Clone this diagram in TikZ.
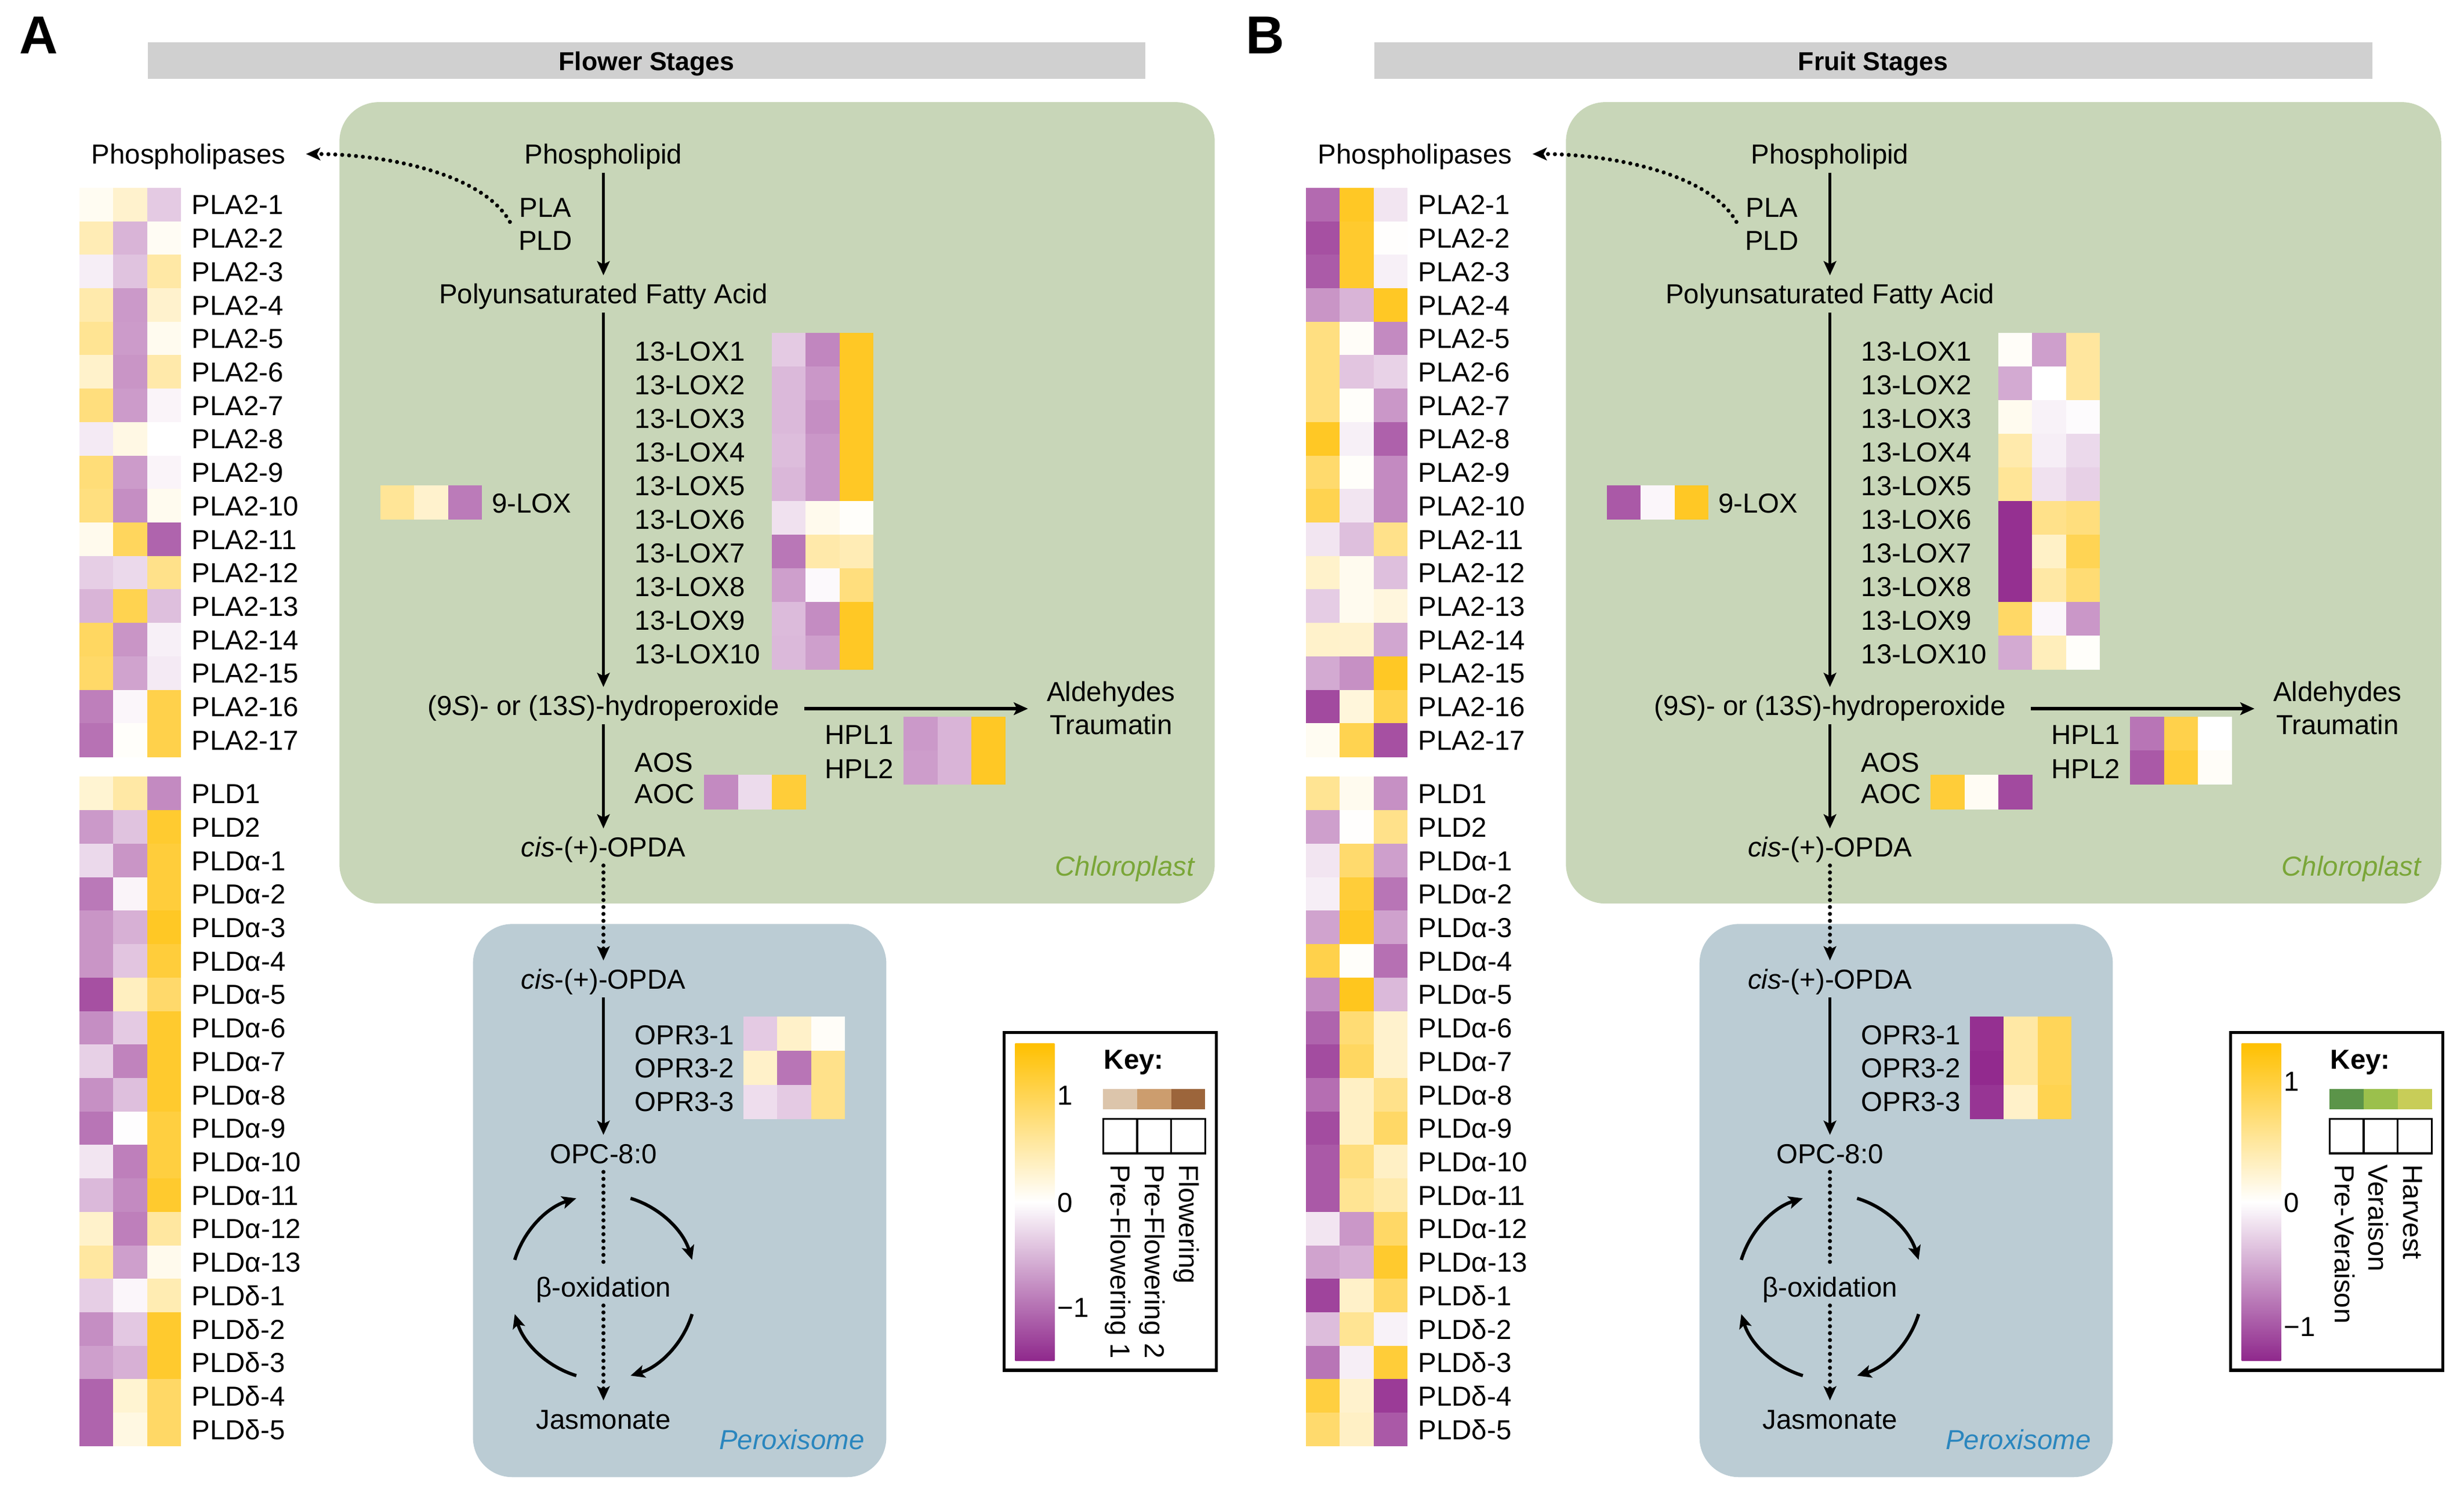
\documentclass[tikz,border=0pt]{standalone}
\usepackage{fontspec}
\setmainfont{Liberation Sans}
\usetikzlibrary{arrows.meta}
\definecolor{hmgold}{HTML}{FFC61E}
\definecolor{hmpurp}{HTML}{922A8E}
\definecolor{cbtop}{HTML}{FFC000}
\definecolor{cbbot}{HTML}{8F288C}
\definecolor{chlfill}{HTML}{C8D6B8}
\definecolor{perfill}{HTML}{BBCCD4}
\definecolor{chltext}{HTML}{7AA638}
\definecolor{pertext}{HTML}{2A86BE}
\definecolor{bannerfill}{HTML}{D0D0D0}
\definecolor{fa}{HTML}{DCC5AB}\definecolor{fb}{HTML}{CC9D6E}\definecolor{fc}{HTML}{9C653B}
\definecolor{ga}{HTML}{5B9449}\definecolor{gb}{HTML}{9BC04C}\definecolor{gc}{HTML}{C8CD58}
\newcommand\fs{\fontsize{17.5}{21.2}\selectfont}
\newcommand\hmset[1]{\ifnum#1<0 \edef\hmcol{hmpurp!\the\numexpr 0-(#1)\relax!white}\else\edef\hmcol{hmgold!\the\numexpr#1\relax!white}\fi}
\newcommand\hmap[4]{%
  \foreach \va/\vb/\vc [count=\i from 0] in {#4}{%
    \hmset{\va}\fill[fill=\hmcol] (#1,{-#2-\i*#3}) rectangle ++(21.8,{-#3-0.2});
    \hmset{\vb}\fill[fill=\hmcol] ({#1+21.6},{-#2-\i*#3}) rectangle ++(21.8,{-#3-0.2});
    \hmset{\vc}\fill[fill=\hmcol] ({#1+43.2},{-#2-\i*#3}) rectangle ++(21.6,{-#3-0.2});
  }}
\newcommand\commonpanel[2]{%
  \node[font=\bfseries\fontsize{34}{40}\selectfont, inner sep=0pt] (letter) at (24.5,-22.5) {#1};
  \fill[bannerfill] (94,-27) rectangle (729,-50);
  \node[lab, font=\bfseries\fontsize{16.5}{20}\selectfont] (title) at (411.5,-38.5) {#2};
  \fill[chlfill, rounded corners=25pt] (216,-65) rectangle (773,-575);
  \fill[perfill, rounded corners=25pt] (301,-588) rectangle (564,-940);
  \node[lab, font=\itshape\fs, text=chltext, anchor=east] (chl) at (760,-551) {Chloroplast};
  \node[lab, font=\itshape\fs, text=pertext, anchor=east] (per) at (550,-916) {Peroxisome};
  \node[lab] (phl) at (120,-98) {Phospholipases};
  \node[pw] (phlipid) at (384,-98) {Phospholipid};
  \node[pw] (pla) at (347,-132) {PLA};
  \node[pw] (pld) at (347,-153) {PLD};
  \node[pw] (pfa) at (384,-187) {Polyunsaturated Fatty Acid};
  \node[pw] (hydro) at (384,-449) {(9\textit{S})- or (13\textit{S})-hydroperoxide};
  \node[pw] (ald) at (707,-440) {Aldehydes};
  \node[pw] (tra) at (707,-461) {Traumatin};
  \node[pw] (cisa) at (384,-539) {\textit{cis}-(+)-OPDA};
  \node[pw] (cisb) at (384,-623) {\textit{cis}-(+)-OPDA};
  \node[pw] (opc) at (384,-734) {OPC-8:0};
  \node[pw] (beta) at (384,-819) {β-oxidation};
  \node[pw] (jas) at (384,-903) {Jasmonate};
  \node[lab, anchor=west] (lox9) at (313,-320) {9-LOX};
  \foreach \k in {1,...,10} \node[lab, anchor=west] (lox\k) at (404,{-223.5-(\k-1)*21.4}) {13-LOX\k};
  \node[lab, anchor=west] (hpl1) at (525,-467.5) {HPL1};
  \node[lab, anchor=west] (hpl2) at (525,-489) {HPL2};
  \node[lab, anchor=west] (aos) at (404,-485) {AOS};
  \node[lab, anchor=west] (aoc) at (404,-505) {AOC};
  \foreach \k in {1,2,3} \node[lab, anchor=west] (opr\k) at (404,{-658.5-(\k-1)*21.2}) {OPR3-\k};
  \foreach \n [count=\i from 0] in {1,...,17} \node[lab, anchor=west] (plb\n) at (122,{-130.2-\i*21.3}) {PLA2-\n};
  \foreach \n [count=\i from 0] in {PLD1,PLD2,PLDα-1,PLDα-2,PLDα-3,PLDα-4,PLDα-5,PLDα-6,PLDα-7,PLDα-8,PLDα-9,PLDα-10,PLDα-11,PLDα-12,PLDα-13,PLDδ-1,PLDδ-2,PLDδ-3,PLDδ-4,PLDδ-5}
    \node[lab, anchor=west] (pldrow\i) at (122,{-505-\i*21.3}) {\n};
  \draw[arr] (phlipid) -- (pfa);
  \draw[arr] (pfa) -- (hydro);
  \draw[arr] (hydro) -- (cisa);
  \draw[dotarr] (cisa) -- (cisb);
  \draw[arr] (cisb) -- (opc);
  \draw[dotl] (opc) -- (beta);
  \draw[dotarr] (beta) -- (jas);
  \path (hydro.east) ++(0,-2) coordinate (h1);
  \path (h1 -| ald.west) coordinate (h2);
  \draw[arr, shorten <=10.5pt, shorten >=6.5pt] (h1) -- (h2);
  \draw[dotarr, shorten >=13pt] (pld.north west) .. controls +(-18,32) and +(60,0) .. (phl.east);
  \foreach \s/\e in {163/107,73/17,-17/-73,-107/-163}
    \draw[arr] (beta.center) ++(\s:59) arc[start angle=\s, end angle=\e, radius=59];
}
\newcommand\keybox[8]{%
  \draw[line width=2pt] (639,-657) rectangle (774,-872);
  \shade[top color=cbtop, bottom color=cbbot, middle color=white] (646,-664) rectangle (671,-866);
  \node[lab, anchor=west] (k1) at (673,-#1) {1};
  \node[lab, anchor=west] (k0) at (673,-765) {0};
  \node[lab, anchor=west] (km1) at (673,-#2) {−1};
  \node[lab, font=\bfseries\fs] (key) at (721.5,-674) {Key:};
  \fill[#3] (702,-693) rectangle (723.7,-706);
  \fill[#4] (723.7,-693) rectangle (745.3,-706);
  \fill[#5] (745.3,-693) rectangle (767,-706);
  \draw[line width=1.3pt] (702,-712) rectangle (767,-734) (723.7,-712) -- (723.7,-734) (745.3,-712) -- (745.3,-734);
  \node[font=\fs, inner sep=0pt, rotate=-90, anchor=west] (s1) at (711.5,-741) {#6};
  \node[font=\fs, inner sep=0pt, rotate=-90, anchor=west] (s2) at (733,-741) {#7};
  \node[font=\fs, inner sep=0pt, rotate=-90, anchor=west] (s3) at (755,-741) {#8};
}
\begin{document}
\begin{tikzpicture}[x=1pt,y=1pt,
  lab/.style={font=\fs, inner sep=0pt, outer sep=0pt, text height=12.6pt, text depth=0pt},
  pw/.style={lab, outer sep=5.5pt},
  arr/.style={line width=2.1pt, -{Stealth[length=9pt,width=8pt,inset=2pt]}},
  dotl/.style={line width=2.6pt, line cap=round, dash pattern=on 0pt off 4.4pt},
  dotarr/.style={dotl, -{Stealth[length=9pt,width=8pt,inset=2pt]}}]
\useasboundingbox (0,0) rectangle (1568,-953.6);
\begin{scope}[name prefix=A-]
  \commonpanel{A}{Flower Stages}
  \hmap{50.5}{119.5}{21.3}{6/22/-25,33/-35/5,-8/-28/40,37/-48/22,48/-47/7,23/-50/38,58/-47/-5,-10/12/0,60/-47/-5,57/-53/7,8/72/-73,-23/-18/52,-35/78/-30,70/-50/-7,67/-43/-10,-60/-4/80,-66/2/80}
  \hmap{50.5}{494.3}{21.3}{20/40/-55,-48/-28/92,-18/-50/87,-63/-5/87,-50/-37/97,-50/-27/87,-82/28/66,-53/-25/93,-22/-58/93,-52/-30/93,-65/-1/85,-12/-60/85,-33/-55/93,23/-60/42,42/-45/8,-23/-4/34,-53/-26/93,-45/-37/93,-73/20/68,-73/13/68}
  \hmap{491}{212}{21.4}{-25/-57/97,-33/-49/97,-33/-53/97,-31/-49/97,-34/-49/97,-14/8/2,-64/38/33,-45/-3/58,-32/-54/97,-33/-45/97}
  \hmap{242}{309}{21.5}{46/22/-62}
  \hmap{575}{456}{21.5}{-48/-35/97,-46/-35/97}
  \hmap{448}{493}{22}{-55/-17/88}
  \hmap{473}{647}{21.7}{-25/24/3,24/-65/52,-16/-25/52}
  \keybox{697}{832}{fa}{fb}{fc}{Pre-Flowering 1}{Pre-Flowering 2}{Flowering}
\end{scope}
\begin{scope}[xshift=780.5pt, name prefix=B-]
  \commonpanel{B}{Fruit Stages}
  \hmap{50.5}{119.5}{21.3}{-70/97/-12,-82/93/1,-77/93/-7,-50/-35/97,56/3/-55,56/-27/-21,56/2/-49,97/-7/-74,65/2/-55,78/-12/-55,-12/-30/52,23/7/-30,-24/7/15,23/22/-42,-40/-52/97,-85/16/78,6/78/-82}
  \hmap{50.5}{494.3}{21.3}{48/7/-52,-45/1/52,-12/65/-45,-8/88/-65,-43/97/-44,80/2/-67,-54/100/-33,-73/62/22,-84/70/22,-68/26/52,-84/26/68,-78/58/26,-78/48/37,-12/-49/68,-43/-37/93,-88/24/68,-31/48/-6,-65/-8/88,85/22/-92,65/26/-78}
  \hmap{491}{212}{21.4}{3/-45/43,-40/0/43,7/-6/-2,37/-8/-18,46/-14/-22,-97/52/58,-97/25/76,-97/40/62,68/-4/-49,-40/30/2}
  \hmap{242}{309}{21.5}{-78/-4/97}
  \hmap{575}{456}{21.5}{-65/80/0,-78/88/3}
  \hmap{448}{493}{22}{88/5/-85}
  \hmap{473}{647}{21.7}{-97/40/74,-100/40/74,-95/24/78}
  \keybox{688}{844}{ga}{gb}{gc}{Pre-Veraison}{Veraison}{Harvest}
\end{scope}
\end{tikzpicture}
\end{document}
